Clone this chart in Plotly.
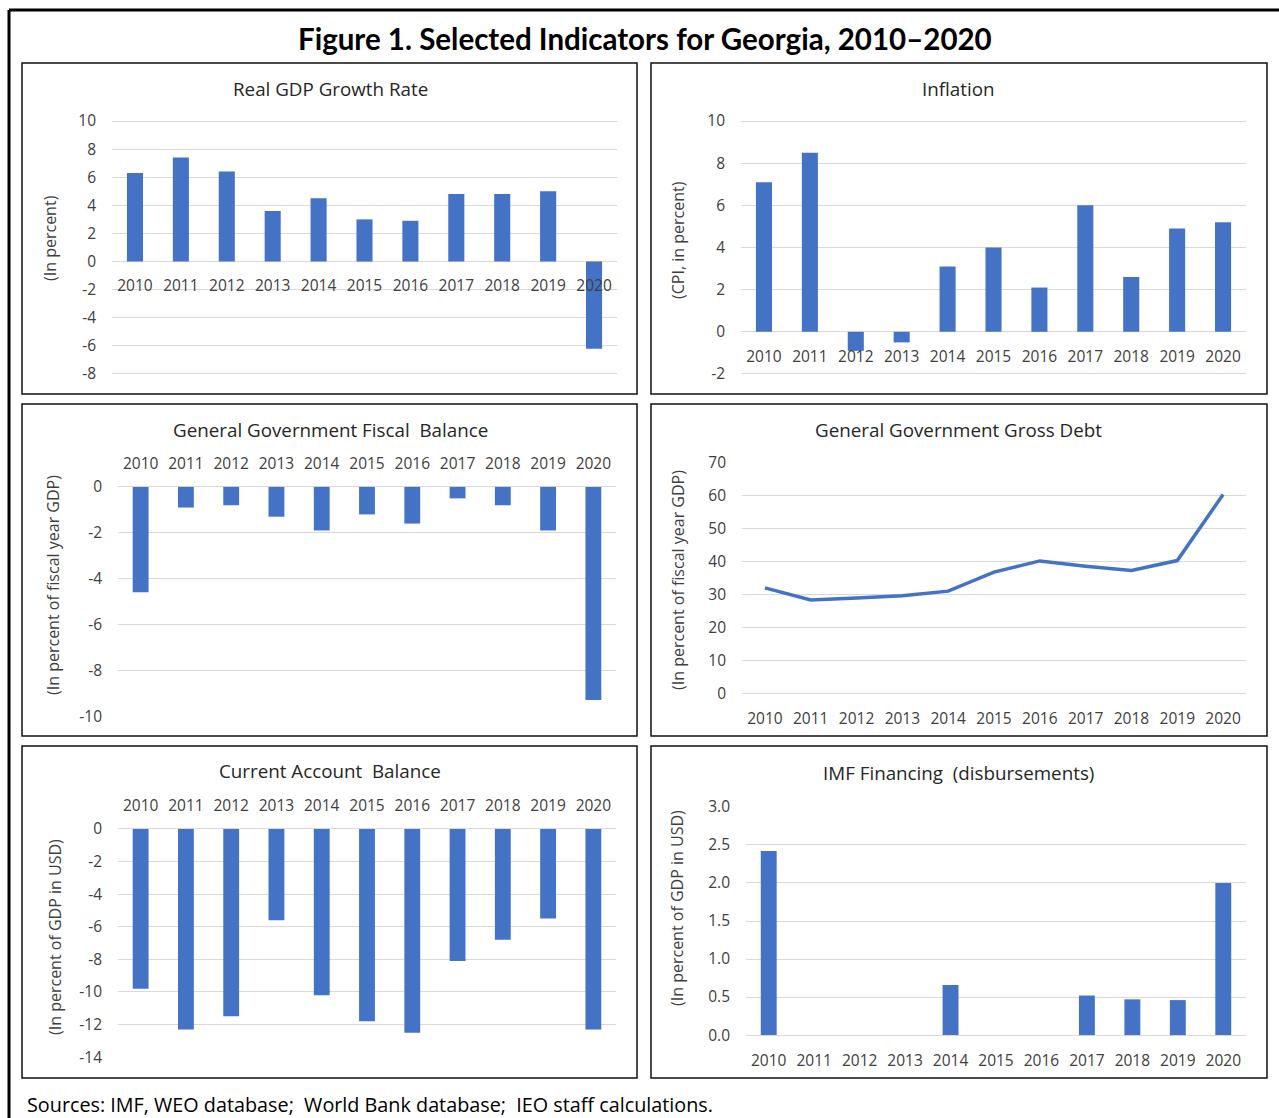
import plotly.graph_objects as go
from plotly.subplots import make_subplots

W, H = 1279, 1118

years = [str(y) for y in range(2010, 2021)]

gdp_growth = [6.3, 7.4, 6.4, 3.6, 4.5, 3.0, 2.9, 4.8, 4.8, 5.0, -6.2]
inflation = [7.1, 8.5, -0.9, -0.5, 3.1, 4.0, 2.1, 6.0, 2.6, 4.9, 5.2]
fiscal_balance = [-4.6, -0.9, -0.8, -1.3, -1.9, -1.2, -1.6, -0.5, -0.8, -1.9, -9.3]
gross_debt = [32.0, 28.3, 28.9, 29.6, 31.0, 36.8, 40.2, 38.6, 37.3, 40.3, 60.4]
current_account = [-9.8, -12.3, -11.5, -5.6, -10.2, -11.8, -12.5, -8.1, -6.8, -5.5, -12.3]
imf_financing = [2.42, 0, 0, 0, 0.66, 0, 0, 0.52, 0.47, 0.46, 2.0]

# y tick values per panel (Excel style labels with a plain hyphen)
gdp_ticks = [-8, -6, -4, -2, 0, 2, 4, 6, 8, 10]
inflation_ticks = [-2, 0, 2, 4, 6, 8, 10]
fiscal_ticks = [-10, -8, -6, -4, -2, 0]
debt_ticks = [0, 10, 20, 30, 40, 50, 60, 70]
ca_ticks = [-14, -12, -10, -8, -6, -4, -2, 0]
imf_ticks = [0.0, 0.5, 1.0, 1.5, 2.0, 2.5, 3.0]

BLUE = "#4472C4"
GRID = "#D9D9D9"
TXT = "#404040"
FONT = "Open Sans"


def fx(x):
    return x / W


def fy(y):
    return 1 - y / H


fig = make_subplots(rows=3, cols=2)

panels = [
    dict(r=1, c=1, box=(112, 617, 120, 375), ticks=gdp_ticks, fmt="{:g}", side="zero",
         ytitle="(In percent)", title="Real GDP Growth Rate", tpos=(330, 89), ypos=(50, 238),
         frame=(22, 637, 63, 394)),
    dict(r=1, c=2, box=(741, 1246, 120, 375), ticks=inflation_ticks, fmt="{:g}", side="zero",
         ytitle="(CPI, in percent)", title="Inflation", tpos=(958, 89), ypos=(678, 240),
         frame=(651, 1267, 63, 394)),
    dict(r=2, c=1, box=(118, 616, 486, 717), ticks=fiscal_ticks, fmt="{:g}", side="top",
         ytitle="(In percent of fiscal year GDP)", title="General Government Fiscal  Balance",
         tpos=(330, 430), ypos=(53, 585), frame=(22, 637, 404, 736)),
    dict(r=2, c=2, box=(742, 1246, 462, 694), ticks=debt_ticks, fmt="{:g}", side="bottom",
         ytitle="(In percent of fiscal year GDP)", title="General Government Gross Debt",
         tpos=(958, 430), ypos=(678, 580), frame=(651, 1267, 404, 736)),
    dict(r=3, c=1, box=(118, 616, 828, 1058), ticks=ca_ticks, fmt="{:g}", side="top",
         ytitle="(In percent of GDP in USD)", title="Current Account  Balance",
         tpos=(330, 771), ypos=(55, 937), frame=(22, 637, 746, 1078)),
    dict(r=3, c=2, box=(746, 1246, 806, 1036), ticks=imf_ticks, fmt="{:.1f}", side="bottom",
         ytitle="(In percent of GDP in USD)", title="IMF Financing  (disbursements)",
         tpos=(958, 773), ypos=(677, 908), frame=(651, 1267, 746, 1078)),
]

series = [gdp_growth, inflation, fiscal_balance, gross_debt, current_account, imf_financing]

for i, (p, vals) in enumerate(zip(panels, series)):
    if i == 3:
        fig.add_trace(
            go.Scatter(x=years, y=vals, mode="lines", line=dict(color=BLUE, width=3.5),
                       showlegend=False),
            row=p["r"], col=p["c"],
        )
    else:
        fig.add_trace(
            go.Bar(x=years, y=vals, marker_color=BLUE, marker_line_width=0, showlegend=False),
            row=p["r"], col=p["c"],
        )

    n = i + 1
    xa = "xaxis" if n == 1 else f"xaxis{n}"
    ya = "yaxis" if n == 1 else f"yaxis{n}"
    x0, x1, y0, y1 = p["box"]
    lo, hi = min(p["ticks"]), max(p["ticks"])
    pad = (hi - lo) * 0.004

    xcfg = dict(
        domain=[fx(x0), fx(x1)], range=[-0.5, len(years) - 0.5], automargin=False,
        showgrid=False, showline=False, ticks="",
        tickfont=dict(family=FONT, size=15.5, color=TXT), ticklabelstandoff=13,
    )
    if p["side"] == "zero":
        zero_px = y0 + hi / (hi - lo) * (y1 - y0)
        xcfg.update(anchor="free", position=fy(zero_px))
    elif p["side"] == "top":
        xcfg.update(side="top", ticklabelstandoff=13)
    fig.layout[xa].update(xcfg)

    fig.layout[ya].update(
        domain=[fy(y1), fy(y0)], range=[lo - pad, hi + pad], automargin=False,
        tickmode="array", tickvals=p["ticks"], ticktext=[p["fmt"].format(t) for t in p["ticks"]],
        showgrid=True, gridcolor=GRID, gridwidth=1.3, zeroline=True, zerolinecolor=GRID,
        zerolinewidth=1.3, showline=False, ticks="", ticklabelstandoff=15,
        tickfont=dict(family=FONT, size=15.5, color=TXT),
    )

    fig.add_annotation(
        x=fx(p["tpos"][0]), y=fy(p["tpos"][1]), xref="paper", yref="paper",
        text=p["title"], showarrow=False, xanchor="center", yanchor="middle",
        font=dict(family=FONT, size=18.8, color="#262626"),
    )
    fig.add_annotation(
        x=fx(p["ypos"][0]), y=fy(p["ypos"][1]), xref="paper", yref="paper",
        text=p["ytitle"], showarrow=False, textangle=-90, xanchor="center", yanchor="middle",
        font=dict(family=FONT, size=16, color=TXT),
    )
    fx0, fx1, fy0, fy1 = p["frame"]
    fig.add_shape(
        type="rect", xref="paper", yref="paper",
        x0=fx(fx0), x1=fx(fx1), y0=fy(fy1), y1=fy(fy0),
        line=dict(color="#111111", width=1.5), fillcolor="rgba(0,0,0,0)",
    )

# outer frame (top and left edges)
fig.add_shape(type="line", xref="paper", yref="paper", x0=fx(9), x1=1, y0=fy(10), y1=fy(10),
              line=dict(color="black", width=3))
fig.add_shape(type="line", xref="paper", yref="paper", x0=fx(9), x1=fx(9), y0=fy(10), y1=0,
              line=dict(color="black", width=3))

fig.add_annotation(
    x=fx(645), y=fy(38), xref="paper", yref="paper", showarrow=False,
    text="<b>Figure 1. Selected Indicators for Georgia, 2010\u20132020</b>",
    font=dict(family="Lato", size=29.5, color="black"), xanchor="center", yanchor="middle",
)
fig.add_annotation(
    x=fx(25), y=fy(1104), xref="paper", yref="paper", showarrow=False,
    text="Sources: IMF, WEO database;  World Bank database;  IEO staff calculations.",
    font=dict(family=FONT, size=19.8, color="black"), xanchor="left", yanchor="middle",
)

fig.update_layout(
    width=W, height=H, margin=dict(l=0, r=0, t=0, b=0, autoexpand=False),
    paper_bgcolor="white", plot_bgcolor="white",
    bargap=0.65, showlegend=False,
)

fig.write_html("out.html", config={"displayModeBar": False},
               post_script="document.body.style.margin = '0';")
